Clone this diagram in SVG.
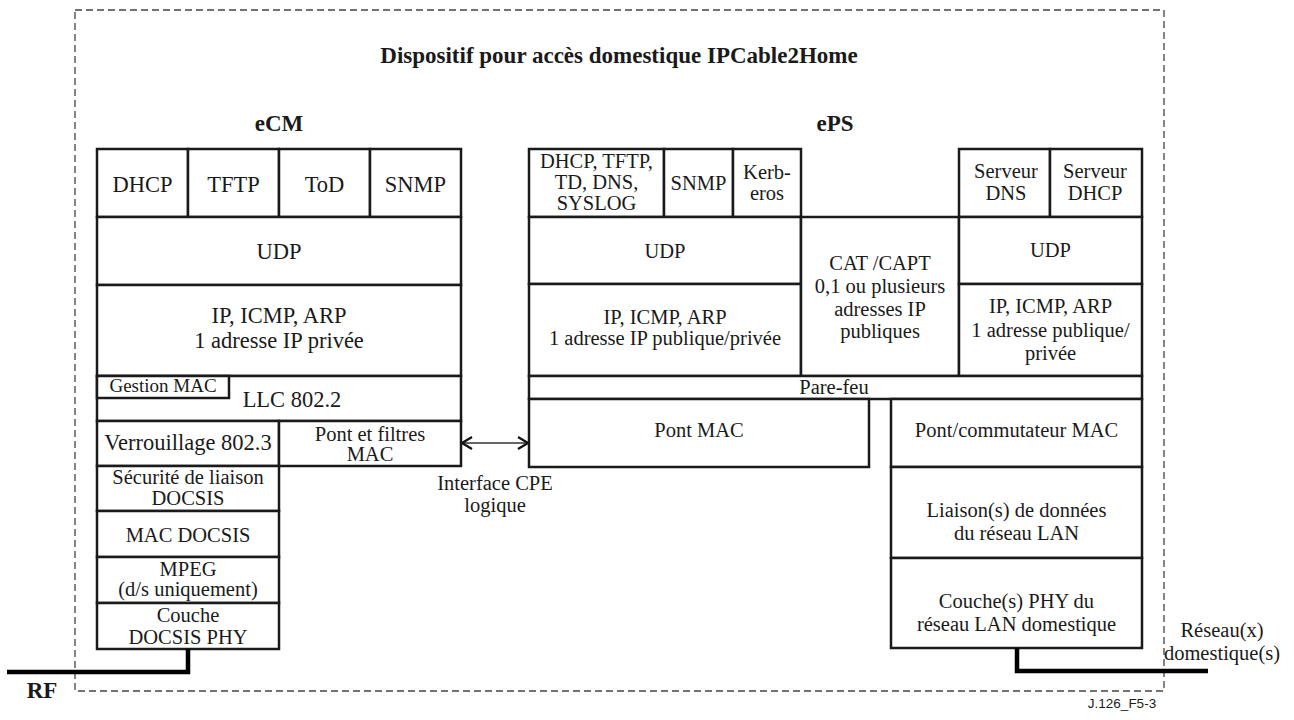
<svg xmlns="http://www.w3.org/2000/svg" width="1294" height="720" viewBox="0 0 1294 720">
  <style>
    .box { fill: #fff; stroke: #1a1a1a; stroke-width: 2.5; }
    .t { font-family: "Liberation Serif", "Times New Roman", serif; font-size: 22.5px; text-anchor: middle; fill: #1a1a1a; }
    .s { font-size: 20.5px; }
    .b { font-weight: bold; font-size: 23px; }
    .frame { fill: none; stroke: #444; stroke-width: 1.3; stroke-dasharray: 7 4; }
    .wire { fill: none; stroke: #000; stroke-width: 4.5; }
    .link { fill: none; stroke: #333; stroke-width: 1.6; }
    .ref { font-family: "Liberation Sans", Arial, sans-serif; font-size: 13.5px; text-anchor: middle; fill: #1a1a1a; }
  </style>
  <defs>
    <marker id="chev" viewBox="0 0 12 14" refX="11" refY="7" markerWidth="12" markerHeight="14" markerUnits="userSpaceOnUse" orient="auto-start-reverse">
      <path d="M1,1 L11,7 L1,13" fill="none" stroke="#111" stroke-width="2.2"/>
    </marker>
  </defs>

  <rect width="1294" height="720" fill="#fff"/>

  <!-- device boundary -->
  <rect class="frame" x="75" y="10" width="1089" height="681"/>
  <text class="t b" x="619" y="63">Dispositif pour accès domestique IPCable2Home</text>
  <text class="t b" x="279" y="131">eCM</text>
  <text class="t b" x="835" y="131">ePS</text>

  <!-- eCM stack -->
  <g id="ecm-dhcp"><rect class="box" x="97" y="149" width="91" height="68"/><text class="t" x="142.5" y="192">DHCP</text></g>
  <g id="ecm-tftp"><rect class="box" x="188" y="149" width="91" height="68"/><text class="t" x="233.5" y="192">TFTP</text></g>
  <g id="ecm-tod"><rect class="box" x="279" y="149" width="91" height="68"/><text class="t" x="324.5" y="192">ToD</text></g>
  <g id="ecm-snmp"><rect class="box" x="370" y="149" width="91" height="68"/><text class="t" x="415.5" y="192">SNMP</text></g>
  <g id="ecm-udp"><rect class="box" x="97" y="217" width="364" height="68"/><text class="t" x="279" y="259">UDP</text></g>
  <g id="ecm-ip"><rect class="box" x="97" y="285" width="364" height="91"/><text class="t" x="279" y="323">IP, ICMP, ARP</text><text class="t" x="279" y="348">1 adresse IP privée</text></g>
  <g id="ecm-llc"><rect class="box" x="97" y="376" width="364" height="45"/><text class="t" x="292" y="407">LLC 802.2</text></g>
  <g id="ecm-gestion"><rect class="box" x="97" y="376" width="132" height="22"/><text class="t" x="163" y="392" style="font-size:19px">Gestion MAC</text></g>
  <g id="ecm-verrou"><rect class="box" x="97" y="421" width="182" height="45"/><text class="t" x="188" y="450">Verrouillage 802.3</text></g>
  <g id="ecm-pont"><rect class="box" x="279" y="421" width="182" height="45"/><text class="t s" x="370" y="441">Pont et filtres</text><text class="t s" x="370" y="461">MAC</text></g>
  <g id="ecm-secu"><rect class="box" x="97" y="466" width="182" height="45"/><text class="t s" x="188" y="484">Sécurité de liaison</text><text class="t s" x="188" y="505">DOCSIS</text></g>
  <g id="ecm-mac"><rect class="box" x="97" y="511" width="182" height="46"/><text class="t s" x="188" y="542">MAC DOCSIS</text></g>
  <g id="ecm-mpeg"><rect class="box" x="97" y="557" width="182" height="46"/><text class="t s" x="188" y="576">MPEG</text><text class="t s" x="188" y="596">(d/s uniquement)</text></g>
  <g id="ecm-phy"><rect class="box" x="97" y="603" width="182" height="46"/><text class="t s" x="188" y="622">Couche</text><text class="t s" x="188" y="644">DOCSIS PHY</text></g>

  <!-- ePS stack -->
  <g id="eps-apps"><rect class="box" x="529" y="149" width="135" height="68"/><text class="t s" x="596.5" y="168">DHCP, TFTP,</text><text class="t s" x="596.5" y="189">TD, DNS,</text><text class="t s" x="596.5" y="210">SYSLOG</text></g>
  <g id="eps-snmp"><rect class="box" x="664" y="149" width="69" height="68"/><text class="t s" x="698.5" y="190">SNMP</text></g>
  <g id="eps-kerberos"><rect class="box" x="733" y="149" width="68" height="68"/><text class="t s" x="767" y="179">Kerb-</text><text class="t s" x="767" y="200">eros</text></g>
  <g id="eps-udp"><rect class="box" x="529" y="217" width="272" height="67"/><text class="t s" x="665" y="258">UDP</text></g>
  <g id="eps-ip"><rect class="box" x="529" y="284" width="272" height="92"/><text class="t s" x="665" y="324">IP, ICMP, ARP</text><text class="t s" x="665" y="345">1 adresse IP publique/privée</text></g>
  <g id="eps-cat"><rect class="box" x="801" y="217" width="158" height="159"/><text class="t s" x="880" y="270">CAT /CAPT</text><text class="t s" x="880" y="293">0,1 ou plusieurs</text><text class="t s" x="880" y="316">adresses IP</text><text class="t s" x="880" y="338">publiques</text></g>
  <g id="eps-dns"><rect class="box" x="959" y="149" width="91" height="68"/><text class="t s" x="1006" y="178">Serveur</text><text class="t s" x="1006" y="200">DNS</text></g>
  <g id="eps-dhcp"><rect class="box" x="1050" y="149" width="92" height="68"/><text class="t s" x="1095" y="178">Serveur</text><text class="t s" x="1095" y="200">DHCP</text></g>
  <g id="eps-udp2"><rect class="box" x="959" y="217" width="183" height="67"/><text class="t s" x="1050.5" y="257">UDP</text></g>
  <g id="eps-ip2"><rect class="box" x="959" y="284" width="183" height="92"/><text class="t s" x="1050.5" y="313">IP, ICMP, ARP</text><text class="t s" x="1050.5" y="337">1 adresse publique/</text><text class="t s" x="1050.5" y="360">privée</text></g>
  <g id="eps-firewall"><rect class="box" x="529" y="376" width="613" height="23"/><text class="t s" x="834" y="394">Pare-feu</text></g>
  <g id="eps-pont"><rect class="box" x="529" y="399" width="340" height="68"/><text class="t s" x="699" y="437">Pont MAC</text></g>
  <g id="eps-switch"><rect class="box" x="891" y="399" width="251" height="68"/><text class="t s" x="1016.5" y="437">Pont/commutateur MAC</text></g>
  <g id="eps-lan-link"><rect class="box" x="891" y="467" width="251" height="91"/><text class="t s" x="1016.5" y="517">Liaison(s) de données</text><text class="t s" x="1016.5" y="540">du réseau LAN</text></g>
  <g id="eps-lan-phy"><rect class="box" x="891" y="558" width="251" height="90"/><text class="t s" x="1016.5" y="608">Couche(s) PHY du</text><text class="t s" x="1016.5" y="631">réseau LAN domestique</text></g>

  <!-- connectors -->
  <g id="connectors">
    <line class="link" x1="462" y1="443" x2="528" y2="443" marker-start="url(#chev)" marker-end="url(#chev)"/>
    <polyline class="wire" points="188,649 188,672 7,672"/>
    <polyline class="wire" points="1017,648 1017,671 1208,671"/>
  </g>

  <text class="t s" x="495" y="490">Interface CPE</text>
  <text class="t s" x="495" y="512">logique</text>
  <text class="t b" x="42" y="698">RF</text>
  <text class="t s" x="1222" y="637">Réseau(x)</text>
  <text class="t s" x="1222" y="660">domestique(s)</text>
  <text class="ref" x="1122" y="708">J.126_F5-3</text>
</svg>
